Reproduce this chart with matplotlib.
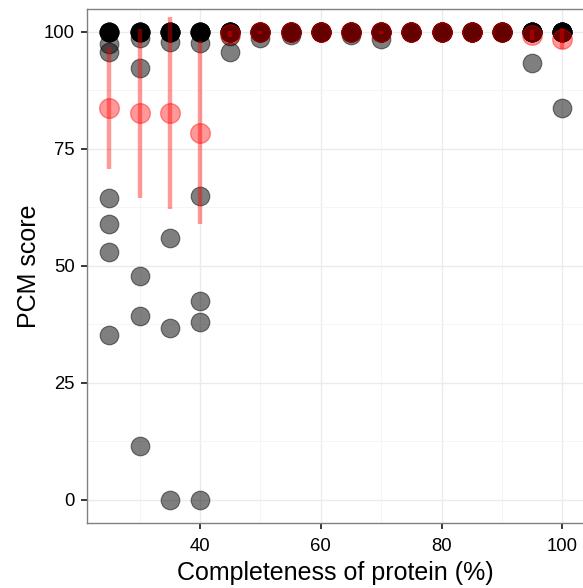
import matplotlib
matplotlib.use("Agg")
import matplotlib.pyplot as plt
import numpy as np

plt.rcParams['font.family'] = ['Liberation Sans', 'DejaVu Sans']

# completeness levels (%)
completeness = [25, 30, 35, 40, 45, 50, 55, 60, 65, 70, 75, 80, 85, 90, 95, 100]

# individual PCM scores per completeness level
scores = [
    [100] * 6 + [97.4, 95.7, 64.6, 59.0, 53.0, 35.3],
    [100] * 7 + [98.7, 92.2, 47.9, 39.3, 11.5],
    [100] * 8 + [97.9, 55.9, 36.7, 0.0],
    [100] * 7 + [97.6, 65.0, 42.4, 38.0, 0.0],
    [100] * 10 + [99.2, 95.8],
    [100] * 11 + [98.8],
    [100] * 11 + [99.4],
    [100] * 12,
    [100] * 11 + [99.3],
    [100] * 11 + [98.4],
    [100] * 12,
    [100] * 12,
    [100] * 12,
    [100] * 12,
    [100] * 11 + [93.4],
    [100] * 11 + [83.7],
]

mean_score = [83.7, 82.6, 82.6, 78.5, 99.6, 99.9, 99.95, 100, 99.95, 99.9, 100, 100, 100, 100, 99.4, 98.6]
lower = [70.7, 64.5, 62.1, 59.0, 98.9, 99.6, 99.9, 100, 99.9, 99.6, 100, 100, 100, 100, 98.3, 96.4]
upper = [96.7, 100.7, 103.1, 98.0, 100.3, 100.2, 100.0, 100, 100.0, 100.2, 100, 100, 100, 100, 100.5, 100.8]

W, H = 583, 588
fig = plt.figure(figsize=(W / 100, H / 100), dpi=100)
ax = fig.add_axes([86.8 / W, (H - 523.0) / H, (W - 86.8) / W, (523.0 - 8.6) / H])

# raw points
for x, ys in zip(completeness, scores):
    ax.scatter([x] * len(ys), ys, s=180, color='black', alpha=0.5,
               edgecolors='black', linewidths=0.8, zorder=3)

# mean with interval
ax.vlines(completeness, lower, upper, color='red', alpha=0.4, linewidth=3.2, zorder=4)
ax.scatter(completeness, mean_score, s=200, color='red', alpha=0.4,
           edgecolors='red', linewidths=1.0, zorder=5)

ax.set_xlim(21.25, 21.25 + (W - 86.8) / 6.038)
ax.set_ylim(-5, 105)
ax.set_xticks([40, 60, 80, 100])
ax.set_xticks([30, 50, 70, 90], minor=True)
ax.set_yticks([0, 25, 50, 75, 100])
ax.set_yticks([12.5, 37.5, 62.5, 87.5], minor=True)

ax.grid(which='major', color='#ebebeb', linewidth=1.0, zorder=0)
ax.grid(which='minor', color='#f4f4f4', linewidth=0.6, zorder=0)
ax.set_axisbelow(True)

for side in ['left', 'top', 'bottom']:
    ax.spines[side].set_color('#808080')
    ax.spines[side].set_linewidth(1.0)
ax.spines['right'].set_visible(False)

ax.tick_params(axis='both', which='major', direction='out', length=4.3, width=1.1,
               color='black', labelsize=13.3, labelcolor='black')
ax.tick_params(axis='y', which='major', pad=4.5)
ax.tick_params(axis='x', which='major', pad=6.2)
ax.tick_params(axis='both', which='minor', length=0)

ax.set_xlabel('Completeness of protein (%)', fontsize=18, labelpad=4.5)
ax.set_ylabel('PCM score', fontsize=18, labelpad=1.5)

fig.savefig('out.png', dpi=100)
